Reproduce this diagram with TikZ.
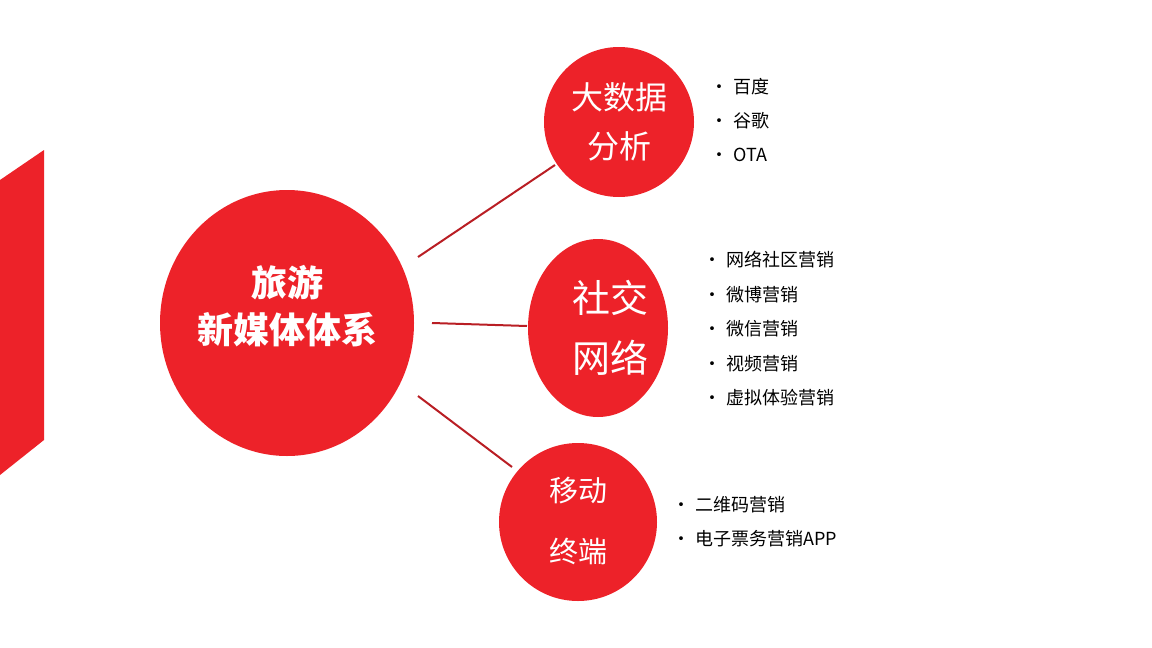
\documentclass[tikz,border=0pt]{standalone}
\usepackage{fontspec}
\setmainfont{Noto Sans CJK SC}
\definecolor{bred}{RGB}{237,34,41}
\definecolor{lred}{RGB}{185,30,36}
\begin{document}
\begin{tikzpicture}[x=1pt,y=-1pt,
  ctext/.style={text=white,align=center},
  item/.style={anchor=west,font=\fontsize{18}{20}\selectfont,inner sep=0pt},
  link/.style={draw=lred,line width=2pt}]
\useasboundingbox (0,0) rectangle (1152,648);
\fill[bred] (0,180) -- (44,150) -- (44,440) -- (0,475) -- cycle;
\fill[bred] (287,323) ellipse [x radius=127,y radius=133];
\node[text=white,align=center,font=\bfseries\fontsize{36}{47}\selectfont] (m) at (287,306) {旅游\\新媒体体系};
\fill[bred] (619,122) circle [radius=75];
\node[ctext,font=\fontsize{32}{49}\selectfont] (a) at (619,122) {大数据\\分析};
\fill[bred] (598,328) ellipse [x radius=70,y radius=89];
\node[ctext,font=\fontsize{38}{60}\selectfont] (b) at (610,328) {社交\\网络};
\fill[bred] (578,522) circle [radius=79];
\node[ctext,font=\fontsize{29}{61}\selectfont] (c) at (578,521) {移动\\终端};
\coordinate (m1) at (418,257); \coordinate (a1) at (555,165);
\coordinate (m2) at (432,323); \coordinate (b1) at (527,326);
\coordinate (m3) at (418,396); \coordinate (c1) at (512,467);
\draw[link] (m1) -- (a1);
\draw[link] (m2) -- (b1);
\draw[link] (m3) -- (c1);
\foreach \t [count=\i] in {百度,谷歌,OTA}
  \node[item] (a\i) at (710,87+34*\i-34) {•\hspace{5pt}\t};
\foreach \t [count=\i] in {网络社区营销,微博营销,微信营销,视频营销,虚拟体验营销}
  \node[item] (b\i) at (703,260+34.5*\i-34.5) {•\hspace{5pt}\t};
\foreach \t [count=\i] in {二维码营销,电子票务营销APP}
  \node[item] (c\i) at (672,505+34*\i-34) {•\hspace{5pt}\t};
\end{tikzpicture}
\end{document}
